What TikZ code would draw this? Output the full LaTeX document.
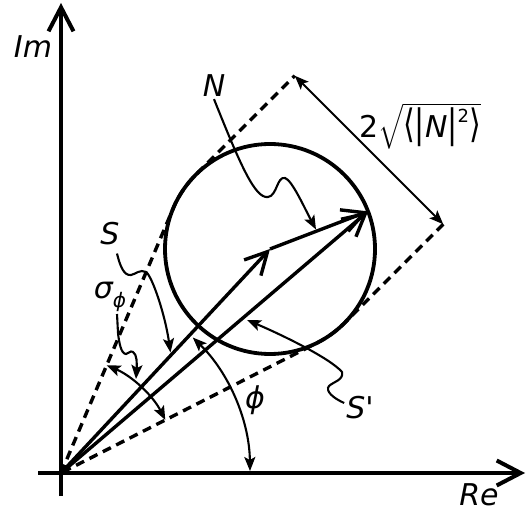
\documentclass[tikz,border=0pt]{standalone}
\usepackage{amsmath}
\usepackage{graphicx}
\usepackage{fontspec}
\setmainfont{DejaVu Sans}
\usetikzlibrary{arrows.meta}
\newcommand{\tallglyph}[1]{\scalebox{1}[1.3]{#1}}
\begin{document}
\begin{tikzpicture}[x=1pt,y=1pt,
  axis/.style={line width=4pt,-{Straight Barb[length=24pt,width=25pt]}},
  vec/.style={line width=3.4pt,-{Straight Barb[length=22pt,width=23pt]}},
  band/.style={line width=3.4pt,dash pattern=on 9pt off 6pt},
  ring/.style={circle,draw,line width=3.8pt,inner sep=0pt,minimum size=210pt},
  lead/.style={line width=2.1pt,-{Stealth[length=14pt,width=11pt,inset=3pt]}},
  dim/.style={line width=2.1pt,{Stealth[length=14pt,width=11pt,inset=3pt]}-{Stealth[length=14pt,width=11pt,inset=3pt]}},
  lbl/.style={font=\fontsize{30}{32}\selectfont\itshape,inner sep=2pt}
]
\useasboundingbox (0,0) rectangle (526,514);
% key points
\coordinate (O) at (61,41);
\coordinate (C) at (270,265);
\coordinate (T) at ([shift={(21:105)}]C);
\coordinate (T1) at ([shift={(157.02:105)}]C);
\coordinate (P1) at ([shift={(135:105)}]C);
\coordinate (K1) at ([shift={(45:140)}]P1);
\coordinate (P2) at ([shift={(-45:105)}]C);
\coordinate (K2) at ([shift={(45:140)}]P2);
\coordinate (ImS) at (61,18);
\coordinate (ImE) at (61,511);
\coordinate (ReS) at (38,41);
\coordinate (ReE) at (525,41);
\coordinate (Ntip) at (316,284.5);
\coordinate (Stip) at (170.5,161.5);
\coordinate (sigtip) at (136,135);
\coordinate (Sptip) at (247,194);
% axes
\draw[axis] (ImS) -- (ImE);
\draw[axis] (ReS) -- (ReE);
% circle
\node[ring] (ring) at (C) {};
% dashed band
\draw[band] (O) -- (T1) arc[start angle=157.02,end angle=135,radius=105] -- (K1);
\draw[band] (K2) -- (P2) arc[start angle=-45,end angle=-63.06,radius=105] -- (O);
% vectors
\draw[vec] (O) -- (C);
\draw[vec] (O) -- (T);
\draw[vec] (C) -- (T);
% dimension
\draw[dim] (K1) -- (K2);
% angle arcs
\draw[dim] ([shift={(26.94:117)}]O) arc[start angle=26.94,end angle=67.02,radius=117];
\draw[dim] ([shift={(0.6:189)}]O) arc[start angle=0.6,end angle=45.8,radius=189];
% labels
\node[lbl] (Im) at (33,467) {Im};
\node[lbl] (Re) at (479,19) {Re};
\node[lbl] (N) at (214,428) {N};
\node[lbl] (S) at (110,280) {S};
\node[lbl] (Sp) at (360,106) {S\textquotesingle};
\node[lbl] (sig) at (110,217) {σ\raisebox{-0.3em}{\fontsize{20}{20}\selectfont ϕ}};
\node[lbl] (phi) at (255,114) {ϕ};
\node[lbl,font=\fontsize{30}{32}\selectfont] (dimlbl) at (420,388) {$\text{2}\sqrt{\text{\tallglyph{⟨}\tallglyph{|}\textit{N}\tallglyph{|}\raisebox{0.5em}{\fontsize{18}{18}\selectfont 2}\tallglyph{⟩}}}$};
% leaders
\draw[lead] (N.south) .. controls (240,350) and (255,315) .. (268,317)
  .. controls (277,318) and (277,338) .. (285,336)
  .. controls (292,334) and (305,305) .. (Ntip);
\draw[lead] ([shift={(7,-6)}]S.south) .. controls (120,248) and (124,238) .. (131,239)
  .. controls (136,240) and (140,245) .. (146,242)
  .. controls (152,238) and (165,200) .. (Stip);
\draw[lead] ([shift={(7,0)}]sig.south) -- (118,181) .. controls (119,172) and (121,160) .. (126,160)
  .. controls (129,160) and (130,164) .. (133,162)
  .. controls (137,160) and (137,150) .. (sigtip);
\draw[lead] ([yshift=5pt]Sp.west) .. controls (333,116) and (325,123) .. (329,128)
  .. controls (333,132) and (344,134) .. (342,142)
  .. controls (330,156) and (280,180) .. (Sptip);
\end{tikzpicture}
\end{document}
